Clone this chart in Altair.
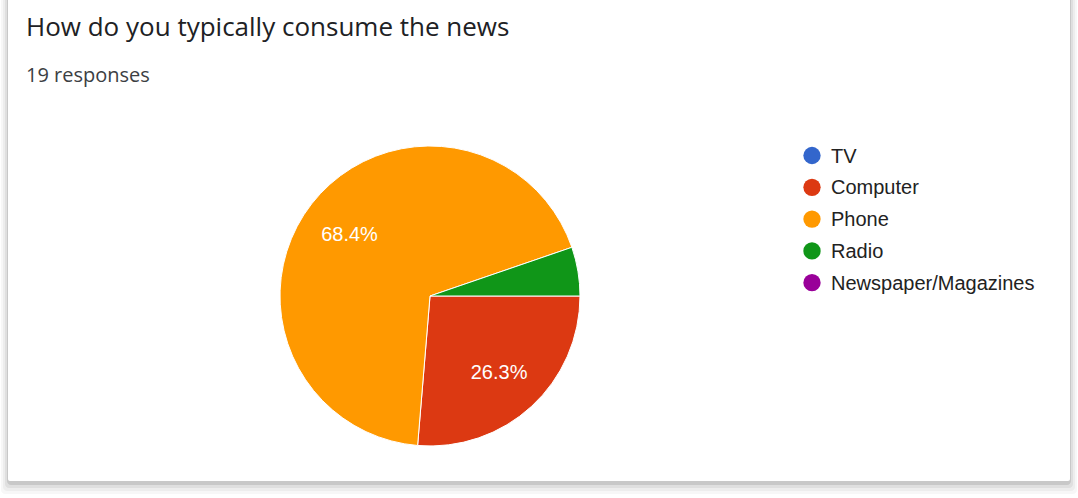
import math
import altair as alt
import pandas as pd

# Survey answers
categories = ["TV", "Computer", "Phone", "Radio", "Newspaper/Magazines"]
counts = [0, 5, 13, 1, 0]
colors = ["#3366cc", "#dc3912", "#ff9900", "#109618", "#990099"]

title_text = "How do you typically consume the news"
subtitle_text = "19 responses"

W, H = 1078, 498
CX, CY, R = 430, 296, 150

total = sum(counts)
df = pd.DataFrame({"cat": categories, "count": counts, "idx": range(len(categories))})
df["pct"] = df["count"] / total * 100
df["label"] = [f"{p:.1f}%" if p >= 10 else "" for p in df["pct"]]
pie_df = df[df["count"] > 0]

color_scale = alt.Scale(domain=categories, range=colors)
theta_scale = alt.Scale(range=[math.pi / 2, math.pi / 2 + 2 * math.pi])

# card with soft shadow
shadow_df = pd.DataFrame({"k": [0]})
shadow_layers = []
for i, (grow, dy, op) in enumerate([(7, 13, 0.03), (5, 10, 0.04), (3, 7, 0.06), (1, 4, 0.1)]):
    shadow_layers.append(
        alt.Chart(shadow_df).mark_rect(color="#000000", opacity=op, cornerRadius=4).encode(
            x=alt.value(8 - grow), x2=alt.value(1070 + grow),
            y=alt.value(-10), y2=alt.value(481 + dy),
        )
    )
card = alt.Chart(shadow_df).mark_rect(color="#ffffff", cornerRadius=2).encode(
    x=alt.value(8), x2=alt.value(1070), y=alt.value(-10), y2=alt.value(481)
)

title = alt.Chart(shadow_df).mark_text(
    text=title_text, align="left", baseline="alphabetic", font="Open Sans",
    fontSize=26, color="#202124",
).encode(x=alt.value(26), y=alt.value(36))

subtitle = alt.Chart(shadow_df).mark_text(
    text=subtitle_text, align="left", baseline="alphabetic", font="Open Sans",
    fontSize=20, color="#3c4043",
).encode(x=alt.value(26), y=alt.value(82))

arcs = alt.Chart(pie_df).mark_arc(outerRadius=R, stroke="#ffffff", strokeWidth=1).encode(
    theta=alt.Theta("count:Q", stack=True, scale=theta_scale),
    color=alt.Color("cat:N", scale=color_scale, legend=None),
    order=alt.Order("idx:Q"),
    x=alt.value(CX), y=alt.value(CY),
)

pct_labels = alt.Chart(pie_df).mark_text(
    radius=102, color="#ffffff", font="Liberation Sans", fontSize=20,
    align="center", baseline="middle", dy=2,
).encode(
    theta=alt.Theta("count:Q", stack=True, scale=theta_scale),
    order=alt.Order("idx:Q"),
    text="label:N",
    x=alt.value(CX), y=alt.value(CY),
)

legend_y = alt.Y("cat:N", sort=categories, axis=None,
                 scale=alt.Scale(type="point", range=[155.5, 282.7], padding=0))
legend_dots = alt.Chart(df).mark_point(filled=True, opacity=1, size=300, shape="circle").encode(
    x=alt.value(812), y=legend_y,
    color=alt.Color("cat:N", scale=color_scale, legend=None),
)
legend_text = alt.Chart(df).mark_text(
    align="left", baseline="middle", font="Liberation Sans", fontSize=20, color="#222222", dy=1,
).encode(x=alt.value(831), y=legend_y, text="cat:N")

chart = alt.layer(
    *shadow_layers, card, title, subtitle, arcs, pct_labels, legend_dots, legend_text
).properties(
    width=W, height=H, padding=0, autosize="none", background="#ffffff"
).configure_view(stroke=None)

chart.save("out.html", embed_options={"renderer": "svg", "actions": False})
